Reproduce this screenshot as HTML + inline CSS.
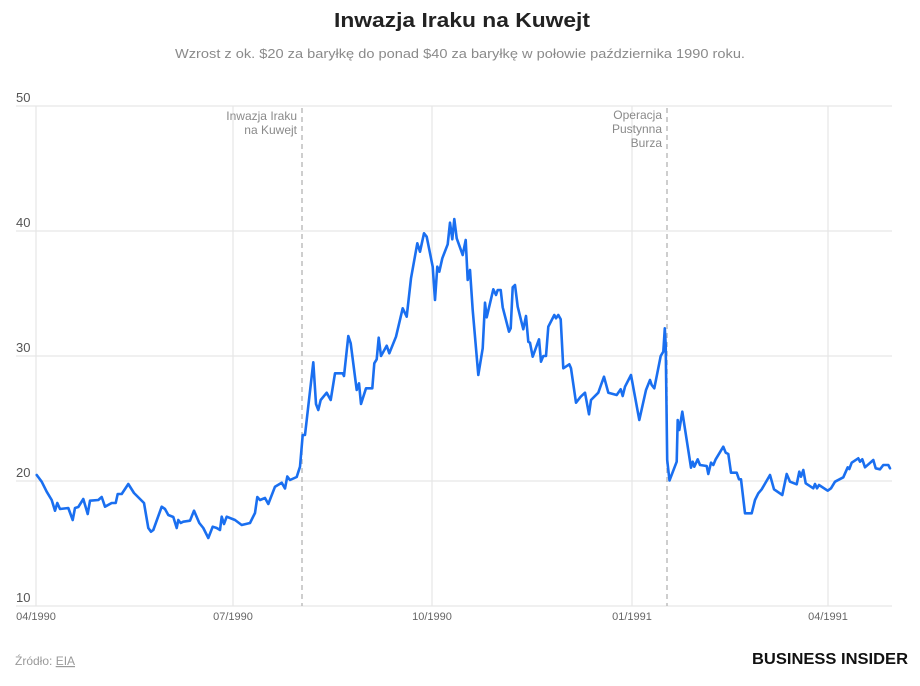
<!DOCTYPE html>
<html>
<head>
<meta charset="utf-8">
<style>
  html,body{margin:0;padding:0;background:#fff;}
  svg{display:block;}
  text{font-family:"Liberation Sans", Arial, sans-serif;}
</style>
</head>
<body>
<svg width="920" height="686" viewBox="0 0 920 686" xmlns="http://www.w3.org/2000/svg">
  <rect x="0" y="0" width="920" height="686" fill="#fff"/>

  <!-- Title & subtitle -->
  <text x="462" y="27" text-anchor="middle" font-size="20" font-weight="bold" fill="#222" textLength="256" lengthAdjust="spacingAndGlyphs">Inwazja Iraku na Kuwejt</text>
  <text x="460" y="58" text-anchor="middle" font-size="13" fill="#8a8a8a" textLength="570" lengthAdjust="spacingAndGlyphs">Wzrost z ok. $20 za baryłkę do ponad $40 za baryłkę w połowie października 1990 roku.</text>

  <!-- Horizontal gridlines -->
  <g stroke="#e6e6e6" stroke-width="1.2">
    <line x1="16" y1="106" x2="892" y2="106"/>
    <line x1="16" y1="231" x2="892" y2="231"/>
    <line x1="16" y1="356" x2="892" y2="356"/>
    <line x1="16" y1="481" x2="892" y2="481"/>
    <line x1="16" y1="606" x2="892" y2="606"/>
  </g>
  <!-- Vertical gridlines -->
  <g stroke="#e6e6e6" stroke-width="1.2">
    <line x1="36" y1="106" x2="36" y2="606"/>
    <line x1="233" y1="106" x2="233" y2="606"/>
    <line x1="432" y1="106" x2="432" y2="606"/>
    <line x1="632" y1="106" x2="632" y2="606"/>
    <line x1="828" y1="106" x2="828" y2="606"/>
  </g>

  <!-- Y labels -->
  <g font-size="13" fill="#555">
    <text x="16" y="102">50</text>
    <text x="16" y="227">40</text>
    <text x="16" y="352">30</text>
    <text x="16" y="477">20</text>
    <text x="16" y="602">10</text>
  </g>

  <!-- X labels -->
  <g font-size="11" fill="#666" text-anchor="middle">
    <text x="36" y="620">04/1990</text>
    <text x="233" y="620">07/1990</text>
    <text x="432" y="620">10/1990</text>
    <text x="632" y="620">01/1991</text>
    <text x="828" y="620">04/1991</text>
  </g>

  <!-- Event lines -->
  <g stroke="#bdbdbd" stroke-width="1.5" stroke-dasharray="5,4">
    <line x1="302" y1="108" x2="302" y2="606"/>
    <line x1="667" y1="108" x2="667" y2="606"/>
  </g>
  <g font-size="12" fill="#8a8a8a" text-anchor="end">
    <text x="297" y="120">Inwazja Iraku</text>
    <text x="297" y="134">na Kuwejt</text>
    <text x="662" y="119">Operacja</text>
    <text x="662" y="133">Pustynna</text>
    <text x="662" y="147">Burza</text>
  </g>

  <!-- Series -->
  <polyline fill="none" stroke="#1a6ff0" stroke-width="2.6" stroke-linejoin="round" stroke-linecap="round" points="
36.7,475 41.7,481.7 46.7,491.7 51.7,500 55,510.7 57.3,503 60,509 68.3,508 72.7,520 75,508 78.3,507 83.3,499 87.7,514 90,500.7 98.3,500 101.7,497 105,506.7 111.7,503 115.7,503 117.7,494 121.7,494 128.3,484 134,493 144,503 148.3,528 151,531.7 153.3,530 161.7,506.7 165,509 168.3,515 173.3,517 176.7,528 178.3,520 180.7,523 183.3,521.7 190,520.7 194,510.7 199.3,523 203.3,528 208.3,538 212.7,526.7 216.7,528 220,530 221.7,516.7 224,524 226.7,516.7 235,520 241.7,525 250,523 255,513 257.3,497 260,500 265,498 268.3,504 275,486.7 281.7,482.7 285,488.5 287.3,476.5 290,480 296.7,477 300,466.7 302.7,435 305,435
313.3,362.3 316,404 318.3,410 320.7,400 326.7,392.7 330.7,400 335,373.3 342.7,373.3 344,376 348.3,336 350.7,343.3 356.7,390 359,383.3 361,404 366,388.3 372.3,388.3 374.3,363.3 376.7,359.3 378.7,337.7 381,356 386.7,345.7 389.3,353.3 396,336.7 402.7,308.3 406.7,316.7 411,278.3 417.3,243.3 420,251.7 424,233.3 426.7,236.7 432.7,266.7 435,300 437.3,266.7 439.3,271.7 442.3,258.3 447.7,244.3 450,222.7 452.3,239.3 454.3,219 456.7,238.3 462.7,255 465.7,240 467.7,280 470,270 472.7,310 478.3,375
482.7,348.3 485,302.7 486.7,317.3 493.3,289.3 496,295 497.7,290 500.7,290 502.7,307.3 509,331.7 510.7,328.3 512.7,287.3 515,285 517.7,306.7 523.3,329.3 526,316 528.3,341.7 530,342.7 532.7,356.7 539,339.3 541,361.7 543.3,356 546,356 548.3,326.7 554.3,315 556,318.3 558.3,315 560.7,319.3 563.3,368.3 569.3,364.3 571,368.3 576,402.7 580.7,396.7 585,392.7 589,414.3 591,400 598.3,392.7 601,385 604,376.7 608.3,392.7 616.7,395 620.7,389.3 622.7,396 625,386.7 631,375 639.3,420 646,390 650,380 651.7,385 654.3,388.3 660.7,356 663.3,351.7 664.8,328.3 665.7,345
667.2,460 669.5,480.5 676.7,461.7 677.7,420 679.3,430 682.3,411.7 691,467.7 692.7,461.7 694.3,466.7 697.7,459.3 700,465 706.7,466 708.3,474 711,462.7 713.3,465 715.7,459.3 723.3,446.7 725.7,452.7 728.3,454 731,472.7 736.7,472.7 739,479.3 741,479.3 745,513.3 751.7,513.3 755,500 758.3,493.3 761.7,489.3 770,475 774,489.3 782.3,495 786.7,474 790,481.7 796.7,484.3 799.3,471.7 801,476.7 803.3,470 805.7,483.3 813.3,488.3 815,484 817,488.3 819,485 827.7,490.7 831,488.3 835,481.7 843.3,477.3 847.7,467.3 849.3,469 851.7,462.7 858.3,458.3 860,461.7 862.3,459.3 865,467.3 873.3,460 875.7,468.3 880,469.3 883.3,465 888.3,465 890,468.3"/>

  <!-- Footer -->
  <text x="15" y="665" font-size="12" fill="#9a9a9a">Źródło: <tspan text-decoration="underline">EIA</tspan></text>
  <text x="752" y="664" font-size="16" font-weight="bold" fill="#111" textLength="156" lengthAdjust="spacingAndGlyphs">BUSINESS INSIDER</text>
</svg>
</body>
</html>
